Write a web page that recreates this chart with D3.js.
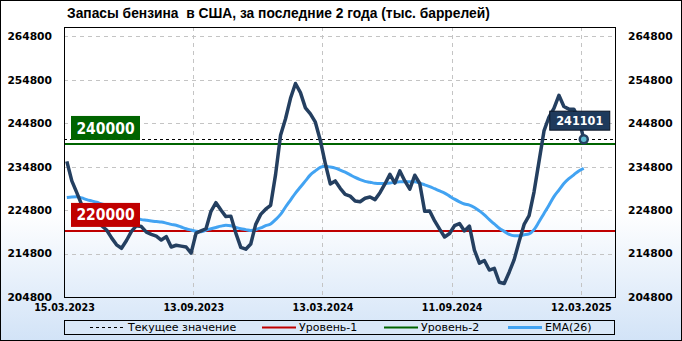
<!DOCTYPE html>
<html>
<head>
<meta charset="utf-8">
<script src="https://cdn.jsdelivr.net/npm/d3@7"></script>
<style>
  body { margin: 0; }
  svg { display: block; }
</style>
</head>
<body>
<svg id="chart"></svg>
<script>
// weekly gasoline stocks, first point 19.03.2023
const firstWeek = "19.03.2023";
const stocks = [
  236000, 231500, 228800, 226000, 224800, 223600, 222400, 221200, 220200, 218400,
  216800, 216000, 217800, 219900, 221200, 221000, 219700, 219200, 218800, 217900,
  218700, 216300, 216700, 216500, 216300, 214900, 219500, 220000, 220500, 224500,
  226500, 224800, 223300, 223400, 219500, 216200, 215800, 217000, 221500, 223800,
  225000, 225900, 233000, 242000, 245800, 250500, 253900, 251800, 248300, 246900,
  245000, 240800, 235500, 230800, 231500, 229800, 228400, 228000, 226900, 226700,
  227500, 227800, 227200, 228800, 230800, 233000, 231000, 233800, 231500, 229600,
  232800, 230900, 224500, 224600, 222300, 220400, 218600, 219400, 221200, 221700,
  220000, 221100, 215600, 212600, 213200, 211000, 211400, 208200, 207900, 210500,
  213400, 217600, 221500, 223500, 229000, 236000, 243000, 246200, 248200, 251200,
  248600, 248000, 248000, 245800, 241101
];
const ema26 = [
  227700, 227800, 227850, 227600, 227200, 226900, 226600, 226200, 225900, 225400,
  224800, 224200, 223700, 223300, 222900, 222600, 222450, 222300, 222150, 222050,
  221800, 221500, 221300, 220900, 220500, 220200, 219900, 219800, 220200, 220500,
  220800, 221100, 221300, 221200, 220800, 220500, 220300, 220100, 220300, 220700,
  221200, 221600, 222600, 223800, 225500, 227100, 228700, 230100, 231500, 232900,
  233800, 234600, 234850, 234700, 234450, 234000, 233500, 232900, 232300, 231800,
  231400, 231200, 230950, 230900, 230900, 231000, 231200, 231300, 231300, 231300,
  231300, 231000, 230600, 230200, 229700, 229200, 228700, 228000, 227300, 226700,
  226200, 225950, 225400, 224600, 223700, 222600, 221600, 220600, 219900, 219200,
  218900, 218900, 219100, 219300, 220300, 222100, 224000, 225900, 227900, 229400,
  230900, 232000, 232900, 233800, 234400
];
const tickLabels = ["15.03.2023", "13.09.2023", "13.03.2024", "11.09.2024", "12.03.2025"];
const yTicks = [204800, 214800, 224800, 234800, 244800, 254800, 264800];
const levelValues = [220000, 240000];
const levelNames = ["Уровень-1", "Уровень-2"];
const currentValue = 241101;

const W = 682, H = 341;
const margin = { top: 27, right: 67, bottom: 44, left: 64 };
const width = W - margin.left - margin.right,
      height = H - margin.top - margin.bottom;

const parse = d3.timeParse("%d.%m.%Y");
const t0 = parse(firstWeek);
const data = stocks.map((v, i) => ({ date: d3.timeDay.offset(t0, i * 7), value: v, ema: ema26[i] }));
const tickDates = tickLabels.map(parse);

const navy = "#243f60", blue = "#42a3f2", red = "#c00000", green = "#006400";
const levelColors = [red, green];

const svg = d3.select("#chart").attr("width", W).attr("height", H);

const defs = svg.append("defs");
const grad = defs.append("linearGradient").attr("id", "bg")
    .attr("x1", 0).attr("y1", 0).attr("x2", 0).attr("y2", 1);
grad.append("stop").attr("offset", "0.62").attr("stop-color", "#ffffff");
grad.append("stop").attr("offset", "1").attr("stop-color", "#d2e3f7");

svg.append("rect").attr("x", 0.5).attr("y", 0.5).attr("width", W - 1).attr("height", H - 1)
    .attr("fill", "url(#bg)").attr("stroke", "#000");

svg.append("text")
    .attr("x", 67).attr("y", 18)
    .attr("xml:space", "preserve")
    .style("font-family", "'Liberation Sans', Arial, sans-serif")
    .style("font-size", "13.8px").style("font-weight", "bold")
    .text("Запасы бензина  в США, за последние 2 года (тыс. баррелей)");

const x = d3.scaleTime()
    .domain([tickDates[0], parse("29.04.2025")])
    .range([0, width]);
const y = d3.scaleLinear().domain([204800, 266900]).range([height, 0]);

const g = svg.append("g").attr("transform", `translate(${margin.left},${margin.top})`);

// grid
g.append("g").selectAll("line").data(yTicks.slice(1)).join("line")
    .attr("x1", 0).attr("x2", width)
    .attr("y1", d => Math.round(y(d)) + 0.5).attr("y2", d => Math.round(y(d)) + 0.5)
    .attr("stroke", "#c4c4c4").attr("stroke-dasharray", "4,4");
g.append("g").selectAll("line").data(tickDates.slice(1)).join("line")
    .attr("x1", d => Math.round(x(d)) + 0.5).attr("x2", d => Math.round(x(d)) + 0.5)
    .attr("y1", 0).attr("y2", height)
    .attr("stroke", "#c4c4c4").attr("stroke-dasharray", "4,4");

// axes
const labelFont = "'DejaVu Sans', Verdana, sans-serif";
const yAxisL = g.append("g").call(d3.axisLeft(y).tickValues(yTicks).tickSize(0).tickPadding(12).tickFormat(d3.format("d")));
const yAxisR = g.append("g").attr("transform", `translate(${width},0)`)
    .call(d3.axisRight(y).tickValues(yTicks).tickSize(0).tickPadding(13).tickFormat(d3.format("d")));
[yAxisL, yAxisR].forEach(a => {
  a.select(".domain").remove();
  a.selectAll("text").style("font-family", labelFont).style("font-size", "10.7px")
    .style("font-weight", "bold").attr("fill", "#000");
});
const xAxis = g.append("g").attr("transform", `translate(0,${height})`)
    .call(d3.axisBottom(x).tickValues(tickDates).tickSize(0).tickPadding(7).tickFormat(d3.timeFormat("%d.%m.%Y")));
xAxis.select(".domain").remove();
xAxis.selectAll("text").style("font-family", labelFont).style("font-size", "9.6px")
    .style("font-weight", "bold").attr("fill", "#000");

// levels
levelValues.forEach((v, i) => {
  g.append("line").attr("x1", 0).attr("x2", width)
    .attr("y1", y(v)).attr("y2", y(v))
    .attr("stroke", levelColors[i]).attr("stroke-width", 2);
});
g.append("line").attr("x1", 0).attr("x2", width)
    .attr("y1", Math.round(y(currentValue)) + 0.5).attr("y2", Math.round(y(currentValue)) + 0.5)
    .attr("stroke", "#000").attr("stroke-dasharray", "3,3");

// lines
g.append("path").datum(data)
    .attr("fill", "none").attr("stroke", blue).attr("stroke-width", 3)
    .attr("d", d3.line().x(d => x(d.date)).y(d => y(d.ema)).curve(d3.curveMonotoneX));
g.append("path").datum(data)
    .attr("fill", "none").attr("stroke", navy).attr("stroke-width", 3.5)
    .attr("stroke-linejoin", "round")
    .attr("d", d3.line().x(d => x(d.date)).y(d => y(d.value)));

// level labels
levelValues.forEach((v, i) => {
  const bx = 7, bw = 69, bh = 24, by = y(v) - 4 - bh;
  g.append("rect").attr("x", bx).attr("y", by).attr("width", bw).attr("height", bh)
    .attr("fill", levelColors[i]);
  g.append("text").attr("x", bx + bw / 2).attr("y", by + bh / 2).attr("dy", "0.36em")
    .attr("text-anchor", "middle").attr("fill", "#fff")
    .style("font-family", "'DejaVu Sans Condensed', 'DejaVu Sans', sans-serif")
    .style("font-stretch", "condensed")
    .style("font-size", "15.5px").style("font-weight", "bold")
    .text(v);
});

// last value marker
const last = data[data.length - 1];
const lx = x(last.date), ly = y(last.value);
g.append("circle").attr("cx", lx).attr("cy", ly).attr("r", 4)
    .attr("fill", "#5fbcd3").attr("stroke", navy).attr("stroke-width", 2.5);
const cw = 60, ch = 19;
g.append("rect").attr("x", lx - 4 - cw / 2).attr("y", ly - 9 - ch).attr("width", cw).attr("height", ch)
    .attr("fill", "#1e3a5c").attr("stroke", "#0b1626").attr("stroke-width", 1);
g.append("text").attr("x", lx - 4).attr("y", ly - 9 - ch / 2).attr("dy", "0.36em")
    .attr("text-anchor", "middle").attr("fill", "#fff")
    .style("font-family", "'DejaVu Sans Condensed', 'DejaVu Sans', sans-serif")
    .style("font-stretch", "condensed")
    .style("font-size", "12.5px").style("font-weight", "bold")
    .text(currentValue);

// plot frame
g.append("rect").attr("x", 0.5).attr("y", 0.5).attr("width", width).attr("height", height)
    .attr("fill", "none").attr("stroke", "#000");

// legend
const lg = svg.append("g");
lg.append("rect").attr("x", 64.5).attr("y", 320.5).attr("width", 550).attr("height", 14)
    .attr("fill", "#dae8f8").attr("stroke", "#000");
const legendItems = [
  { name: "Текущее значение", color: "#000", dash: "3,3", w: 1, x0: 90 },
  { name: levelNames[0], color: red, dash: null, w: 2, x0: 262 },
  { name: levelNames[1], color: green, dash: null, w: 2, x0: 384 },
  { name: "EMA(26)", color: blue, dash: null, w: 3, x0: 508 }
];
legendItems.forEach(it => {
  lg.append("line").attr("x1", it.x0).attr("x2", it.x0 + 34)
    .attr("y1", 327.5).attr("y2", 327.5)
    .attr("stroke", it.color).attr("stroke-width", it.w)
    .attr("stroke-dasharray", it.dash);
  lg.append("text").attr("x", it.x0 + (it.dash ? 38 : 37)).attr("y", 327.5).attr("dy", "0.35em")
    .style("font-family", labelFont).style("font-size", "11px")
    .text(it.name);
});
</script>
</body>
</html>
